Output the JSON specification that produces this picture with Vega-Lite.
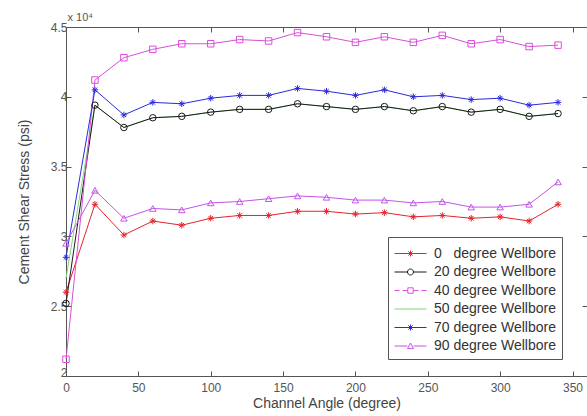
{
  "$schema": "https://vega.github.io/schema/vega-lite/v6.json",
  "width": 521,
  "height": 349,
  "autosize": {"type": "none"},
  "padding": {"left": 66, "top": 27, "right": 0, "bottom": 40},
  "background": "white",
  "config": {"view": {"stroke": null}, "font": "Liberation Sans"},
  "datasets": {
    "d": [
      {"a":0,"w":"0 degree Wellbore","v":26000},{"a":20,"w":"0 degree Wellbore","v":32300},{"a":40,"w":"0 degree Wellbore","v":30100},{"a":60,"w":"0 degree Wellbore","v":31100},{"a":80,"w":"0 degree Wellbore","v":30800},{"a":100,"w":"0 degree Wellbore","v":31300},{"a":120,"w":"0 degree Wellbore","v":31500},{"a":140,"w":"0 degree Wellbore","v":31500},{"a":160,"w":"0 degree Wellbore","v":31800},{"a":180,"w":"0 degree Wellbore","v":31800},{"a":200,"w":"0 degree Wellbore","v":31600},{"a":220,"w":"0 degree Wellbore","v":31700},{"a":240,"w":"0 degree Wellbore","v":31400},{"a":260,"w":"0 degree Wellbore","v":31500},{"a":280,"w":"0 degree Wellbore","v":31300},{"a":300,"w":"0 degree Wellbore","v":31400},{"a":320,"w":"0 degree Wellbore","v":31100},{"a":340,"w":"0 degree Wellbore","v":32300},
      {"a":0,"w":"20 degree Wellbore","v":25200},{"a":20,"w":"20 degree Wellbore","v":39400},{"a":40,"w":"20 degree Wellbore","v":37800},{"a":60,"w":"20 degree Wellbore","v":38500},{"a":80,"w":"20 degree Wellbore","v":38600},{"a":100,"w":"20 degree Wellbore","v":38900},{"a":120,"w":"20 degree Wellbore","v":39100},{"a":140,"w":"20 degree Wellbore","v":39100},{"a":160,"w":"20 degree Wellbore","v":39500},{"a":180,"w":"20 degree Wellbore","v":39300},{"a":200,"w":"20 degree Wellbore","v":39100},{"a":220,"w":"20 degree Wellbore","v":39300},{"a":240,"w":"20 degree Wellbore","v":39000},{"a":260,"w":"20 degree Wellbore","v":39300},{"a":280,"w":"20 degree Wellbore","v":38900},{"a":300,"w":"20 degree Wellbore","v":39100},{"a":320,"w":"20 degree Wellbore","v":38600},{"a":340,"w":"20 degree Wellbore","v":38800},
      {"a":0,"w":"40 degree Wellbore","v":21200},{"a":20,"w":"40 degree Wellbore","v":41200},{"a":40,"w":"40 degree Wellbore","v":42800},{"a":60,"w":"40 degree Wellbore","v":43400},{"a":80,"w":"40 degree Wellbore","v":43800},{"a":100,"w":"40 degree Wellbore","v":43800},{"a":120,"w":"40 degree Wellbore","v":44100},{"a":140,"w":"40 degree Wellbore","v":44000},{"a":160,"w":"40 degree Wellbore","v":44600},{"a":180,"w":"40 degree Wellbore","v":44300},{"a":200,"w":"40 degree Wellbore","v":43900},{"a":220,"w":"40 degree Wellbore","v":44300},{"a":240,"w":"40 degree Wellbore","v":43900},{"a":260,"w":"40 degree Wellbore","v":44400},{"a":280,"w":"40 degree Wellbore","v":43800},{"a":300,"w":"40 degree Wellbore","v":44100},{"a":320,"w":"40 degree Wellbore","v":43600},{"a":340,"w":"40 degree Wellbore","v":43700},
      {"a":0,"w":"50 degree Wellbore","v":27000},{"a":20,"w":"50 degree Wellbore","v":39400},{"a":40,"w":"50 degree Wellbore","v":37800},{"a":60,"w":"50 degree Wellbore","v":38500},{"a":80,"w":"50 degree Wellbore","v":38600},{"a":100,"w":"50 degree Wellbore","v":38900},{"a":120,"w":"50 degree Wellbore","v":39100},{"a":140,"w":"50 degree Wellbore","v":39100},{"a":160,"w":"50 degree Wellbore","v":39500},{"a":180,"w":"50 degree Wellbore","v":39300},{"a":200,"w":"50 degree Wellbore","v":39100},{"a":220,"w":"50 degree Wellbore","v":39300},{"a":240,"w":"50 degree Wellbore","v":39000},{"a":260,"w":"50 degree Wellbore","v":39300},{"a":280,"w":"50 degree Wellbore","v":38900},{"a":300,"w":"50 degree Wellbore","v":39100},{"a":320,"w":"50 degree Wellbore","v":38600},{"a":340,"w":"50 degree Wellbore","v":38800},
      {"a":0,"w":"70 degree Wellbore","v":28500},{"a":20,"w":"70 degree Wellbore","v":40500},{"a":40,"w":"70 degree Wellbore","v":38700},{"a":60,"w":"70 degree Wellbore","v":39600},{"a":80,"w":"70 degree Wellbore","v":39500},{"a":100,"w":"70 degree Wellbore","v":39900},{"a":120,"w":"70 degree Wellbore","v":40100},{"a":140,"w":"70 degree Wellbore","v":40100},{"a":160,"w":"70 degree Wellbore","v":40600},{"a":180,"w":"70 degree Wellbore","v":40400},{"a":200,"w":"70 degree Wellbore","v":40100},{"a":220,"w":"70 degree Wellbore","v":40500},{"a":240,"w":"70 degree Wellbore","v":40000},{"a":260,"w":"70 degree Wellbore","v":40100},{"a":280,"w":"70 degree Wellbore","v":39800},{"a":300,"w":"70 degree Wellbore","v":39900},{"a":320,"w":"70 degree Wellbore","v":39400},{"a":340,"w":"70 degree Wellbore","v":39600},
      {"a":0,"w":"90 degree Wellbore","v":29500},{"a":20,"w":"90 degree Wellbore","v":33300},{"a":40,"w":"90 degree Wellbore","v":31300},{"a":60,"w":"90 degree Wellbore","v":32000},{"a":80,"w":"90 degree Wellbore","v":31900},{"a":100,"w":"90 degree Wellbore","v":32400},{"a":120,"w":"90 degree Wellbore","v":32500},{"a":140,"w":"90 degree Wellbore","v":32700},{"a":160,"w":"90 degree Wellbore","v":32900},{"a":180,"w":"90 degree Wellbore","v":32800},{"a":200,"w":"90 degree Wellbore","v":32600},{"a":220,"w":"90 degree Wellbore","v":32600},{"a":240,"w":"90 degree Wellbore","v":32400},{"a":260,"w":"90 degree Wellbore","v":32500},{"a":280,"w":"90 degree Wellbore","v":32100},{"a":300,"w":"90 degree Wellbore","v":32100},{"a":320,"w":"90 degree Wellbore","v":32300},{"a":340,"w":"90 degree Wellbore","v":33900}
    ]
  },
  "data": {"name": "d"},
  "layer": [
    {
      "transform": [{"filter": "datum.w == '50 degree Wellbore'"}],
      "mark": {"type": "line", "strokeWidth": 1, "color": "#7fd67f"},
      "encoding": {
        "x": {"field": "a", "type": "quantitative", "scale": {"domain": [0, 360], "nice": false},
          "axis": {"orient": "bottom", "values": [0,50,100,150,200,250,300,350], "tickSize": -5, "labelPadding": 11, "labelFlush": false, "grid": false,
            "domainColor": "#555", "tickColor": "#555", "labelColor": "#555", "labelFontSize": 12,
            "title": "Channel Angle (degree)", "titleFontSize": 14, "titleFontWeight": "normal", "titleColor": "#444", "titlePadding": 3}},
        "y": {"field": "v", "type": "quantitative", "scale": {"domain": [20000, 45000], "nice": false, "zero": false},
          "axis": {"orient": "left", "values": [20000,25000,30000,35000,40000,45000], "labelExpr": "datum.value / 10000", "tickSize": -5, "labelPadding": 4, "labelFlush": false, "grid": false,
            "labelOffset": {"condition": {"test": "datum.value == 20000", "value": -4}, "value": 0},
            "domainColor": "#555", "tickColor": "#555", "labelColor": "#555", "labelFontSize": 12,
            "title": "Cement Shear Stress (psi)", "titleFontSize": 14, "titleFontWeight": "normal", "titleColor": "#444", "titlePadding": 19}}
      }
    },
    {
      "transform": [{"filter": "datum.w != '50 degree Wellbore'"}],
      "mark": {"type": "line", "strokeWidth": 1},
      "encoding": {
        "x": {"field": "a", "type": "quantitative", "axis": null},
        "y": {"field": "v", "type": "quantitative", "axis": null},
        "color": {"field": "w", "type": "nominal", "legend": null,
          "scale": {"domain": ["0 degree Wellbore","20 degree Wellbore","40 degree Wellbore","70 degree Wellbore","90 degree Wellbore"],
                    "range": ["#e5232b","#1a1a1a","#d94fd9","#2b2bd9","#c455e8"]}}
      }
    },
    {
      "transform": [{"filter": "datum.w != '50 degree Wellbore'"}],
      "mark": {"type": "point", "filled": false, "strokeWidth": 1, "size": 42, "opacity": 1},
      "encoding": {
        "x": {"field": "a", "type": "quantitative", "axis": null},
        "y": {"field": "v", "type": "quantitative", "axis": null},
        "color": {"field": "w", "type": "nominal", "legend": null,
          "scale": {"domain": ["0 degree Wellbore","20 degree Wellbore","40 degree Wellbore","70 degree Wellbore","90 degree Wellbore"],
                    "range": ["#e5232b","#1a1a1a","#d94fd9","#2b2bd9","#c455e8"]}},
        "shape": {"field": "w", "type": "nominal", "legend": null,
          "scale": {"domain": ["0 degree Wellbore","20 degree Wellbore","40 degree Wellbore","70 degree Wellbore","90 degree Wellbore"],
                    "range": ["M-1,0H1M0,-1V1M-0.7,-0.7L0.7,0.7M-0.7,0.7L0.7,-0.7", "circle", "square", "M-1,0H1M0,-1V1M-0.7,-0.7L0.7,0.7M-0.7,0.7L0.7,-0.7", "triangle-up"]}}
      }
    },
    {
      "transform": [{"filter": "false"}],
      "mark": {"type": "point", "filled": false, "strokeWidth": 1, "opacity": 1},
      "encoding": {
        "x": {"field": "a", "type": "quantitative",
          "axis": {"orient": "top", "values": [0,50,100,150,200,250,300,350], "tickSize": -5, "labels": false, "grid": false,
            "domainColor": "#555", "tickColor": "#555",
            "title": "x 10⁴", "titleFontSize": 11, "titleFontWeight": "normal", "titleColor": "#555",
            "titleAnchor": "start", "titleAlign": "left", "titleX": 1, "titleY": -7, "titleBaseline": "alphabetic"}},
        "y": {"field": "v", "type": "quantitative",
          "axis": {"orient": "right", "values": [20000,25000,30000,35000,40000,45000], "tickSize": -5, "labels": false, "grid": false,
            "domainColor": "#555", "tickColor": "#555", "title": null}},
        "color": {"field": "w", "type": "nominal",
          "scale": {"domain": ["0 degree Wellbore","20 degree Wellbore","40 degree Wellbore","50 degree Wellbore","70 degree Wellbore","90 degree Wellbore"],
                    "range": ["#e5232b","#1a1a1a","#d94fd9","#7fd67f","#2b2bd9","#c455e8"]},
          "legend": {"orient": "none", "legendX": 322, "legendY": 210, "title": null,
            "fillColor": "white", "strokeColor": "#555", "padding": 6, "rowPadding": 0.5,
            "labelFont": "Liberation Sans", "labelFontSize": 14, "labelColor": "#333", "labelOffset": 13,
            "symbolSize": 400, "symbolStrokeWidth": 1, "symbolOffset": 6,
            "labelExpr": "datum.label == '0 degree Wellbore' ? '0\u2007 degree Wellbore' : datum.label"}},
        "shape": {"field": "w", "type": "nominal",
          "scale": {"domain": ["0 degree Wellbore","20 degree Wellbore","40 degree Wellbore","50 degree Wellbore","70 degree Wellbore","90 degree Wellbore"],
                    "range": [
                      "M-1.6,0H1.6M0,-0.3V0.3M-0.21,-0.21L0.21,0.21M-0.21,0.21L0.21,-0.21",
                      "M-1.6,0H-0.3M0.3,0H1.6M-0.3,0A0.3,0.3 0 1,0 0.3,0A0.3,0.3 0 1,0 -0.3,0",
                      "M-1.6,0H-1.1M-0.8,0H-0.3M0.3,0H0.8M1.1,0H1.6M-0.27,-0.27H0.27V0.27H-0.27Z",
                      "M-1.6,0H1.6",
                      "M-1.6,0H1.6M0,-0.3V0.3M-0.21,-0.21L0.21,0.21M-0.21,0.21L0.21,-0.21",
                      "M-1.6,0H-0.3M0.3,0H1.6M-0.3,0.26L0,-0.3L0.3,0.26Z"
                    ]},
          "legend": {"orient": "none", "legendX": 322, "legendY": 210, "title": null,
            "fillColor": "white", "strokeColor": "#555", "padding": 6, "rowPadding": 0.5,
            "labelFont": "Liberation Sans", "labelFontSize": 14, "labelColor": "#333", "labelOffset": 13,
            "symbolSize": 400, "symbolStrokeWidth": 1, "symbolOffset": 6,
            "labelExpr": "datum.label == '0 degree Wellbore' ? '0\u2007 degree Wellbore' : datum.label"}}
      }
    }
  ],
  "resolve": {
    "scale": {"color": "independent", "shape": "independent"},
    "axis": {"x": "independent", "y": "independent"},
    "legend": {"color": "independent", "shape": "independent"}
  }
}
